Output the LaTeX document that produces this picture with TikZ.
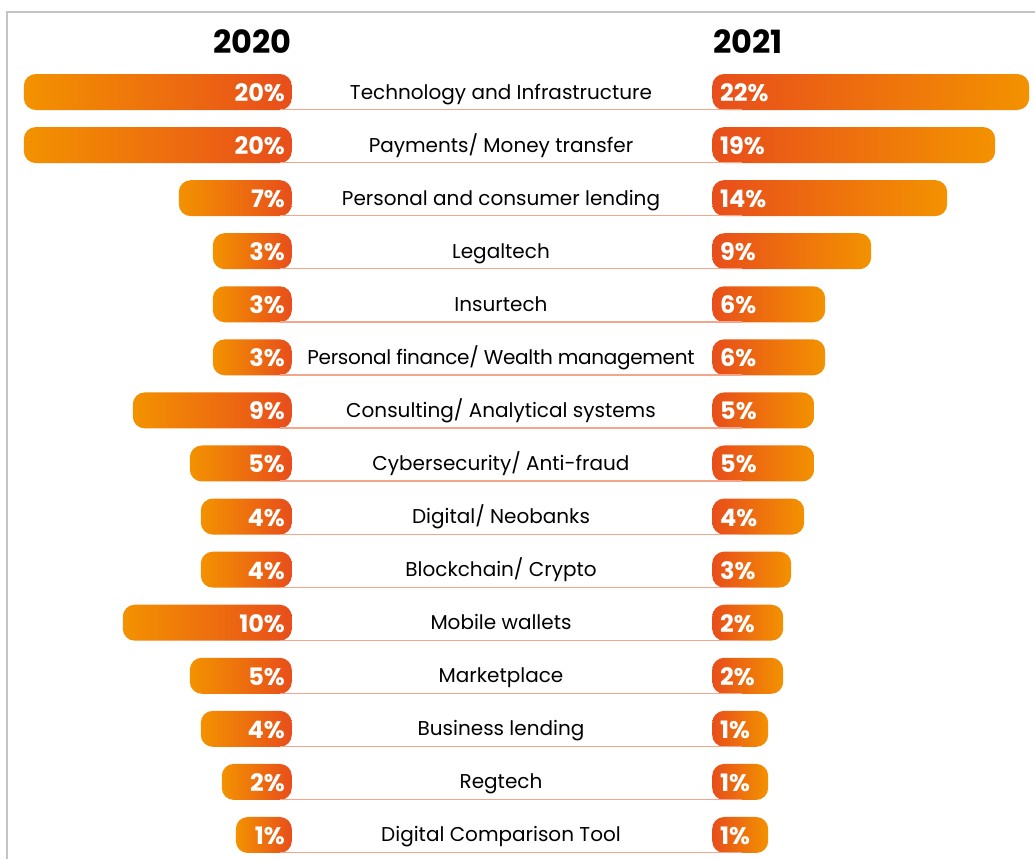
\documentclass[tikz,border=0pt]{standalone}
\usepackage{fontspec}
\setmainfont{Poppins}
\definecolor{orA}{HTML}{F39200}
\definecolor{orB}{HTML}{E84E1B}
\definecolor{lineC}{HTML}{F4A58C}
\definecolor{frameC}{HTML}{C4C4C4}
\newcommand\barrow[6]{%
  \pgfmathsetmacro\yy{92+53.07*(#1-1)}%
  \pgfmathsetmacro\lw{292-#2}%
  \pgfmathsetmacro\rw{#3-712}%
  \node[lbar, minimum width=\lw pt] (l#1) at (292,\yy) {};
  \node[rbar, minimum width=\rw pt] (r#1) at (712,\yy) {};
  \draw[rulec] ([xshift=-12pt,yshift=0.6pt]l#1.south east) -- ([xshift=30pt,yshift=0.6pt]r#1.south west);
  \node[pct, anchor=base east] (lp#1) at ([xshift=-7pt,yshift=-9.5pt]l#1.east) {#4\%};
  \node[pct, anchor=base west] (rp#1) at ([xshift=8pt,yshift=-9.5pt]r#1.west) {#5\%};
  \node[cat] (c#1) at (501,\yy+7) {#6};
}
\begin{document}
\begin{tikzpicture}[x=1pt,y=-1pt,
  lbar/.style={rounded corners=12pt, left color=orA, right color=orB, minimum height=36pt, inner sep=0pt, anchor=east},
  rbar/.style={rounded corners=12pt, left color=orB, right color=orA, minimum height=36pt, inner sep=0pt, anchor=west},
  pct/.style={text=white, font=\bfseries\fontsize{24}{24}\selectfont, inner sep=0pt},
  cat/.style={font=\fontsize{20}{20}\selectfont, inner sep=0pt, anchor=base},
  rulec/.style={draw=lineC, line width=1.3pt},
  yr/.style={font=\bfseries\fontsize{32}{32}\selectfont, inner sep=0pt}]
\useasboundingbox (0,0) rectangle (1035,859);
\fill[white] (0,0) rectangle (1035,859);
\draw[frameC, line width=1.5pt] (7,859) -- (7,12) -- (1035,12);
\node[yr, anchor=base east] (y20) at (292,54) {2020};
\node[yr, anchor=base west] (y21) at (713,54) {2021};
\barrow{1}{24}{1029}{20}{22}{Technology and Infrastructure}
\barrow{2}{24}{995}{20}{19}{Payments/ Money transfer}
\barrow{3}{179}{947}{7}{14}{Personal and consumer lending}
\barrow{4}{213}{871}{3}{9}{Legaltech}
\barrow{5}{213}{825}{3}{6}{Insurtech}
\barrow{6}{213}{825}{3}{6}{\addfontfeature{LetterSpace=-1.5}Personal finance/ Wealth management}
\barrow{7}{133}{814}{9}{5}{Consulting/ Analytical systems}
\barrow{8}{190}{814}{5}{5}{Cybersecurity/ Anti-fraud}
\barrow{9}{201}{804}{4}{4}{Digital/ Neobanks}
\barrow{10}{201}{791}{4}{3}{Blockchain/ Crypto}
\barrow{11}{123}{783}{10}{2}{Mobile wallets}
\barrow{12}{190}{783}{5}{2}{Marketplace}
\barrow{13}{201}{768}{4}{1}{Business lending}
\barrow{14}{222}{768}{2}{1}{Regtech}
\barrow{15}{236}{768}{1}{1}{Digital Comparison Tool}
\end{tikzpicture}
\end{document}
